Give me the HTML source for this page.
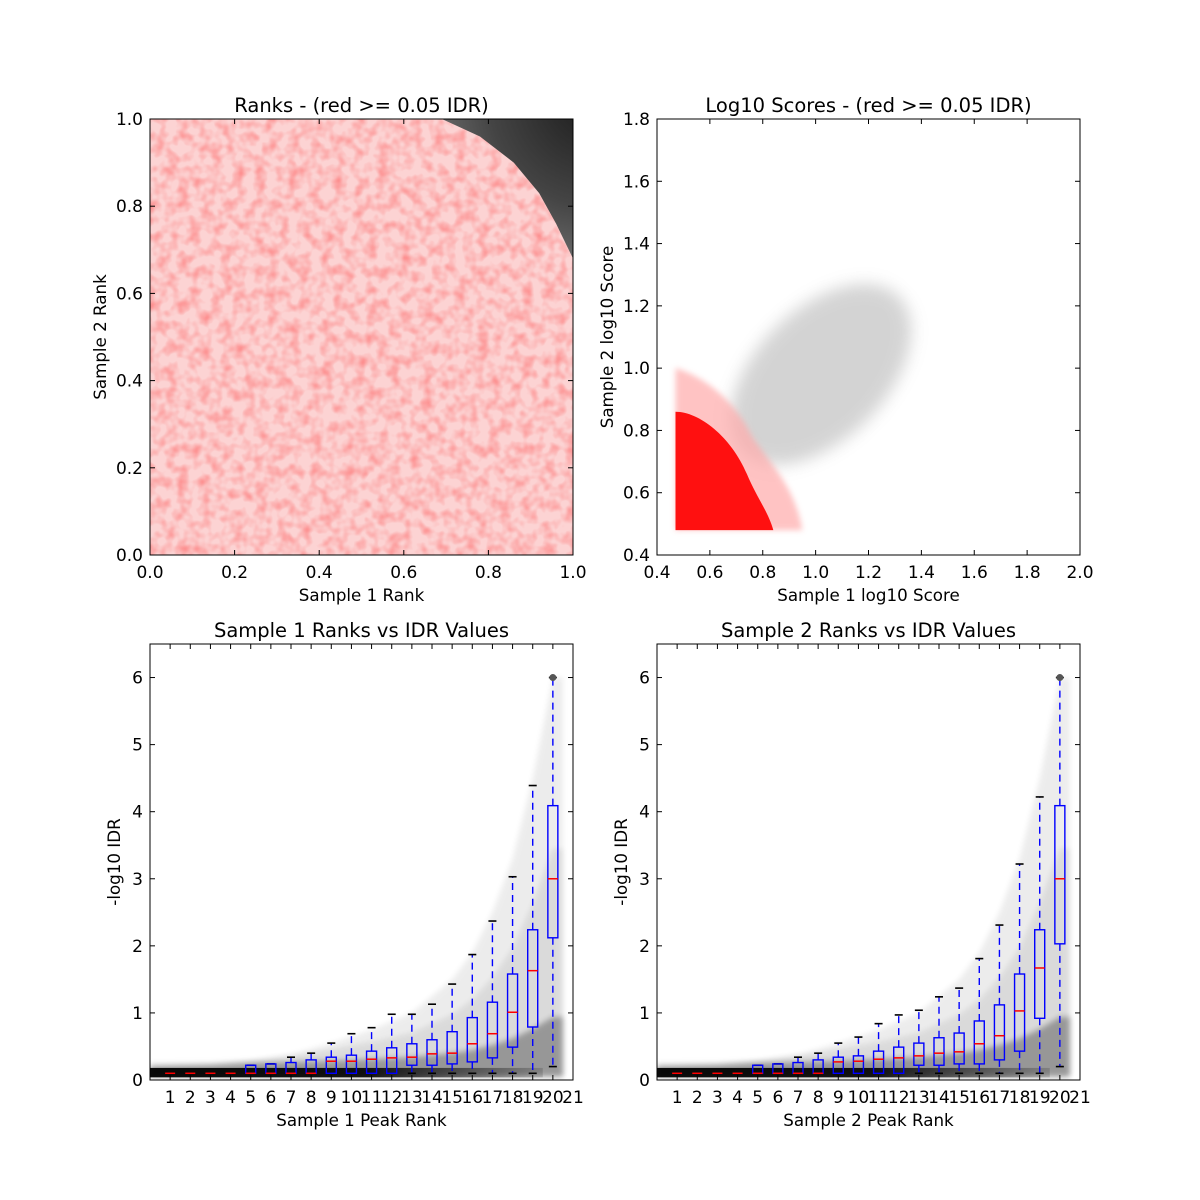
<!DOCTYPE html>
<html><head><meta charset="utf-8"><style>
html,body{margin:0;padding:0;background:#fff}
svg{display:block;font-family:"DejaVu Sans","Liberation Sans",sans-serif}
</style></head><body>
<svg id="fig" width="1200" height="1200" viewBox="0 0 1200 1200" xmlns="http://www.w3.org/2000/svg">
<defs>
<filter id="blur6" x="-30%" y="-30%" width="160%" height="160%"><feGaussianBlur stdDeviation="8"/></filter>
<filter id="blur3" x="-20%" y="-20%" width="140%" height="140%"><feGaussianBlur stdDeviation="3"/></filter>
<filter id="speck"><feTurbulence type="fractalNoise" baseFrequency="0.09" numOctaves="2" seed="4"/><feColorMatrix type="matrix" values="0 0 0 0 1  0 0 0 0 0  0 0 0 0 0  0 0 0 1.8 -0.7"/><feComposite in2="SourceGraphic" operator="in"/></filter>
<radialGradient id="cornerGrad" cx="1" cy="0" r="1.1">
<stop offset="0" stop-color="#1a1a1a"/><stop offset="0.5" stop-color="#444"/><stop offset="1" stop-color="#888"/>
</radialGradient>
<linearGradient id="bandGrad" x1="0" y1="0" x2="1" y2="0">
<stop offset="0" stop-color="#000" stop-opacity="0.95"/><stop offset="0.55" stop-color="#000" stop-opacity="0.9"/><stop offset="1" stop-color="#000" stop-opacity="0.15"/>
</linearGradient>
<clipPath id="c1"><rect x="150" y="119" width="423" height="436"/></clipPath>
<clipPath id="c2"><rect x="657" y="119" width="423" height="436"/></clipPath>
<clipPath id="c3"><rect x="150" y="644" width="423" height="436"/></clipPath>
<clipPath id="c4"><rect x="657" y="644" width="423" height="436"/></clipPath>
</defs>
<rect width="1200" height="1200" fill="#fff"/>
</svg>
<script>
// ---- data ----
const rankTicks = [0.0,0.2,0.4,0.6,0.8,1.0];
const scoreXTicks = [0.4,0.6,0.8,1.0,1.2,1.4,1.6,1.8,2.0];
const scoreYTicks = [0.4,0.6,0.8,1.0,1.2,1.4,1.6,1.8];
const idrYTicks = [0,1,2,3,4,5,6];
const binLabels = [1,2,3,4,5,6,7,8,9,10,11,12,13,14,15,16,17,18,19,20,21];
const rankBoundary = [[0.69,1.0],[0.78,0.96],[0.86,0.9],[0.92,0.83],[0.96,0.76],[1.0,0.68]];
const s1Med = [0.1,0.1,0.1,0.1,0.1,0.1,0.1,0.1,0.28,0.28,0.31,0.33,0.34,0.39,0.40,0.54,0.69,1.01,1.63,3.0];
const s1Q1  = [0.1,0.1,0.1,0.1,0.1,0.1,0.1,0.1,0.1,0.1,0.1,0.1,0.22,0.22,0.24,0.27,0.33,0.49,0.79,2.12];
const s1Q3  = [0.1,0.1,0.1,0.1,0.22,0.24,0.26,0.30,0.34,0.37,0.43,0.48,0.54,0.60,0.72,0.93,1.16,1.58,2.24,4.09];
const s1Lo  = [0.1,0.1,0.1,0.1,0.1,0.1,0.1,0.1,0.1,0.1,0.1,0.1,0.1,0.1,0.1,0.1,0.1,0.1,0.1,0.2];
const s1Hi  = [0.1,0.1,0.1,0.1,0.22,0.24,0.34,0.40,0.55,0.69,0.78,0.98,0.98,1.13,1.43,1.87,2.37,3.03,4.39,6.0];
const s2Med = [0.1,0.1,0.1,0.1,0.1,0.1,0.1,0.1,0.27,0.28,0.31,0.33,0.36,0.40,0.42,0.54,0.66,1.03,1.67,3.0];
const s2Q1  = [0.1,0.1,0.1,0.1,0.1,0.1,0.1,0.1,0.1,0.1,0.1,0.1,0.22,0.22,0.24,0.24,0.30,0.43,0.92,2.03];
const s2Q3  = [0.1,0.1,0.1,0.1,0.22,0.24,0.26,0.30,0.34,0.36,0.43,0.49,0.55,0.63,0.70,0.88,1.12,1.58,2.24,4.09];
const s2Lo  = [0.1,0.1,0.1,0.1,0.1,0.1,0.1,0.1,0.1,0.1,0.1,0.1,0.1,0.1,0.1,0.1,0.1,0.1,0.1,0.2];
const s2Hi  = [0.1,0.1,0.1,0.1,0.22,0.24,0.34,0.40,0.55,0.64,0.84,0.97,1.04,1.24,1.37,1.81,2.31,3.22,4.22,6.0];
const cloudBins = [0,3,5,7,9,11,13,15,16,17,18,19,20,20.5];
const cloudTop  = [0.2,0.22,0.28,0.38,0.55,0.75,1.0,1.5,1.9,2.5,3.3,4.5,6.0,6.0];

// ---- helpers ----
const svg = document.getElementById('fig');
const NS = 'http://www.w3.org/2000/svg';
function mk(tag, attrs, parent){const e=document.createElementNS(NS,tag);for(const k in attrs)e.setAttribute(k,attrs[k]);(parent||svg).appendChild(e);return e;}
function scale(d0,d1,r0,r1){return v=>r0+(v-d0)/(d1-d0)*(r1-r0);}
function axesFrame(L,T,W,H,xs,ys,xt,yt,fmtx,fmty,name){
  const g=mk('g',{});
  
  
  xt.forEach(v=>{const x=xs(v);
    mk('line',{x1:x,y1:T+H,x2:x,y2:T+H-5,stroke:'#000'},g);
    mk('line',{x1:x,y1:T,x2:x,y2:T+5,stroke:'#000'},g);
    const t=mk('text',{x:x,y:T+H+23,'text-anchor':'middle','font-size':17},g);t.textContent=fmtx(v);
    });
  yt.forEach(v=>{const y=ys(v);
    mk('line',{x1:L,y1:y,x2:L+5,y2:y,stroke:'#000'},g);
    mk('line',{x1:L+W,y1:y,x2:L+W-5,y2:y,stroke:'#000'},g);
    const t=mk('text',{x:L-7,y:y+6,'text-anchor':'end','font-size':17},g);t.textContent=fmty(v);
    });
  mk('rect',{x:L,y:T,width:W,height:H,fill:'none',stroke:'#000','stroke-width':1},g);
}
function labels(L,T,W,H,title,xl,yl,yx,name){
  let t=mk('text',{x:L+W/2,y:T-7,'text-anchor':'middle','font-size':19.5});t.textContent=title;
  
  t=mk('text',{x:L+W/2,y:T+H+46,'text-anchor':'middle','font-size':16.7});t.textContent=xl;
  
  t=mk('text',{x:yx,y:T+H/2,'text-anchor':'middle','font-size':16.7,transform:`rotate(-90 ${yx} ${T+H/2})`});t.textContent=yl;
  
}
const f1=v=>v.toFixed(1);

// ---- Panel 1: ranks ----
(function(){
  const L=150,T=119,W=423,H=436;
  const xs=scale(0,1,L,L+W), ys=scale(0,1,T+H,T);
  const g=mk('g',{'clip-path':'url(#c1)'});
  
  const red=mk('rect',{x:L,y:T,width:W,height:H,fill:'#fcd3d3'},g);
  
  const sp=mk('rect',{x:L,y:T,width:W,height:H,fill:'#f44',opacity:0.35,filter:'url(#speck)'},g);
  
  let d='M'+rankBoundary.map(p=>xs(p[0])+','+ys(p[1])).join(' L')+` L${xs(1.05)},${ys(0.6)} L${xs(1.05)},${ys(1.05)} L${xs(0.6)},${ys(1.05)} Z`;
  const blk=mk('path',{d:d,fill:'url(#cornerGrad)'},g);
  
  axesFrame(L,T,W,H,xs,ys,rankTicks,rankTicks,f1,f1,'rank');
  labels(L,T,W,H,'Ranks - (red >= 0.05 IDR)','Sample 1 Rank','Sample 2 Rank',106,'rank');
})();

// ---- Panel 2: log10 scores ----
(function(){
  const L=657,T=119,W=423,H=436;
  const xs=scale(0.4,2.0,L,L+W), ys=scale(0.4,1.8,T+H,T);
  const g=mk('g',{'clip-path':'url(#c2)'});
  
  const cx=xs(1.02), cy=ys(0.98);
  let e=mk('ellipse',{cx:cx,cy:cy,rx:110,ry:65,fill:'#999',opacity:0.42,filter:'url(#blur6)',transform:`rotate(-45 ${cx} ${cy})`},g);
  
  let d=`M${xs(0.47)},${ys(0.48)} L${xs(0.47)},${ys(1.0)} C${xs(0.55)},${ys(0.98)} ${xs(0.68)},${ys(0.92)} ${xs(0.76)},${ys(0.78)} C${xs(0.84)},${ys(0.68)} ${xs(0.92)},${ys(0.62)} ${xs(0.95)},${ys(0.48)} Z`;
  let p=mk('path',{d:d,fill:'#ffaaaa',opacity:0.7,filter:'url(#blur3)'},g);
  
  d=`M${xs(0.47)},${ys(0.48)} L${xs(0.47)},${ys(0.86)} C${xs(0.56)},${ys(0.86)} ${xs(0.68)},${ys(0.78)} ${xs(0.74)},${ys(0.66)} C${xs(0.78)},${ys(0.58)} ${xs(0.82)},${ys(0.54)} ${xs(0.84)},${ys(0.48)} Z`;
  p=mk('path',{d:d,fill:'#ff1010'},g);
  
  axesFrame(L,T,W,H,xs,ys,scoreXTicks,scoreYTicks,f1,f1,'score');
  labels(L,T,W,H,'Log10 Scores - (red >= 0.05 IDR)','Sample 1 log10 Score','Sample 2 log10 Score',613,'score');
})();

// ---- Panels 3/4: boxplots ----
function boxPanel(L,name,title,xl,med,q1,q3,lo,hi,clip){
  const T=644,W=423,H=436;
  const xs=scale(0,21,L,L+W), ys=scale(0,6.5,T+H,T);
  const g=mk('g',{'clip-path':`url(#${clip})`});
  
  let d='M'+xs(0)+','+ys(0.05)+' '+cloudBins.map((b,i)=>'L'+xs(b)+','+ys(cloudTop[i])).join(' ')+` L${xs(20.5)},${ys(0.05)} Z`;
  let p=mk('path',{d:d,fill:'#000',opacity:0.07,filter:'url(#blur3)'},g);
  
  d='M'+xs(0)+','+ys(0.05)+' '+cloudBins.map((b,i)=>'L'+xs(b)+','+ys(0.15+cloudTop[i]*0.55)).join(' ')+` L${xs(20.5)},${ys(0.05)} Z`;
  p=mk('path',{d:d,fill:'#000',opacity:0.07,filter:'url(#blur3)'},g);
  
  d='M'+xs(0)+','+ys(0.05)+' '+cloudBins.map((b,i)=>'L'+xs(b)+','+ys(Math.min(cloudTop[i],0.22+cloudTop[i]*0.12))).join(' ')+` L${xs(20.5)},${ys(0.05)} Z`;
  p=mk('path',{d:d,fill:'#000',opacity:0.3,filter:'url(#blur3)'},g);
  
  const band=mk('rect',{x:xs(0),y:ys(0.18),width:xs(19.5)-xs(0),height:ys(0.04)-ys(0.18),fill:'url(#bandGrad)'},g);
  
  const gb=mk('g',{});
  
  med.forEach((m,i)=>{
    const x=xs(i+1), bw=5;
    const bg=mk('g',{},gb);
    
    mk('line',{x1:x,y1:ys(q3[i]),x2:x,y2:ys(hi[i]),stroke:'#00f','stroke-width':1.4,'stroke-dasharray':'7,5'},bg);
    mk('line',{x1:x,y1:ys(q1[i]),x2:x,y2:ys(lo[i]),stroke:'#00f','stroke-width':1.4,'stroke-dasharray':'7,5'},bg);
    mk('line',{x1:x-4,y1:ys(hi[i]),x2:x+4,y2:ys(hi[i]),stroke:'#000','stroke-width':1.6},bg);
    mk('line',{x1:x-4,y1:ys(lo[i]),x2:x+4,y2:ys(lo[i]),stroke:'#000','stroke-width':1.6},bg);
    if(q3[i]>q1[i]) mk('rect',{x:x-bw,y:ys(q3[i]),width:2*bw,height:ys(q1[i])-ys(q3[i]),fill:'none',stroke:'#00f','stroke-width':1.4},bg);
    mk('line',{x1:x-bw,y1:ys(m),x2:x+bw,y2:ys(m),stroke:'#f00','stroke-width':1.5},bg);
  });
  const top=mk('circle',{cx:xs(20),cy:ys(6),r:3.5,fill:'#555'});
  
  axesFrame(L,T,W,H,xs,ys,binLabels,idrYTicks,v=>String(v),v=>String(v),name);
  labels(L,T,W,H,title,xl,'-log10 IDR',L-30,name);
}
boxPanel(150,'sample1','Sample 1 Ranks vs IDR Values','Sample 1 Peak Rank',s1Med,s1Q1,s1Q3,s1Lo,s1Hi,'c3');
boxPanel(657,'sample2','Sample 2 Ranks vs IDR Values','Sample 2 Peak Rank',s2Med,s2Q1,s2Q3,s2Lo,s2Hi,'c4');
</script>
</body></html>
